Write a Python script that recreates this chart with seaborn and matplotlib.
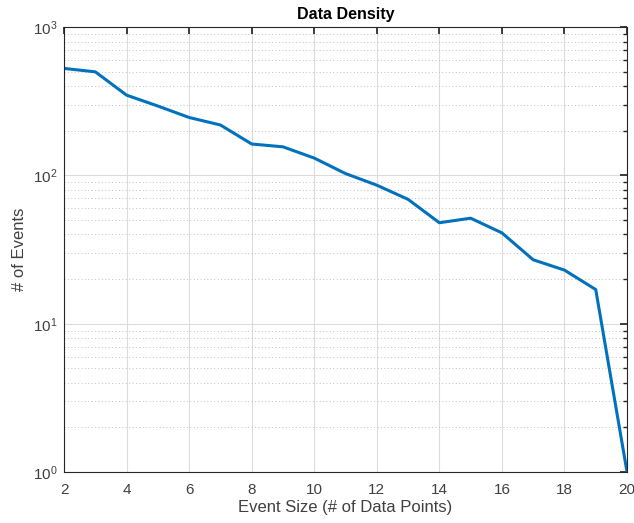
import matplotlib
matplotlib.use("Agg")
import matplotlib.pyplot as plt
import seaborn as sns
import pandas as pd
from matplotlib.ticker import LogLocator, NullFormatter

event_size = [2, 3, 4, 5, 6, 7, 8, 9, 10, 11, 12, 13, 14, 15, 16, 17, 18, 19, 20]
num_events = [527, 500, 348, 294, 246, 219, 163, 156, 131, 103, 86, 69, 48, 51.5, 41, 27, 23, 17, 1]

df = pd.DataFrame({"size": event_size, "events": num_events})

sns.set_theme(style="white")
plt.rcParams['font.family'] = ['Liberation Sans', 'DejaVu Sans']

fig = plt.figure(figsize=(6.34, 5.23), dpi=100)
ax = fig.add_axes([0.101, 0.0975, 0.888, 0.8505])

sns.lineplot(data=df, x="size", y="events", ax=ax, color="#0072BD", linewidth=2.2)
ax.set_yscale("log")
ax.set_xlim(2, 20)
ax.set_ylim(1, 1000)
ax.set_xticks(range(2, 21, 2))
ax.yaxis.set_major_locator(LogLocator(base=10, numticks=10))
ax.yaxis.set_minor_locator(LogLocator(base=10, subs=range(2, 10), numticks=20))
ax.yaxis.set_minor_formatter(NullFormatter())

ax.grid(True, which="major", color="#dcdcdc", linewidth=0.8, linestyle="-")
ax.grid(True, which="minor", axis="y", color="#c0c0c0", linewidth=0.7, linestyle=(0, (1, 2.5)))
ax.set_axisbelow(True)

for s in ax.spines.values():
    s.set_visible(True)
    s.set_color("#262626")
    s.set_linewidth(0.8)

ax.tick_params(which="both", direction="in", top=True, right=True, colors="#262626",
               labelsize=11, labelcolor="#404040")
ax.tick_params(which="major", length=5)
ax.tick_params(which="minor", length=3)
ax.tick_params(axis="x", pad=8)
ax.tick_params(axis="y", pad=5)

ax.set_title("Data Density", fontsize=11.5, fontweight="bold", color="#000000", pad=6)
ax.set_xlabel("Event Size (# of Data Points)", fontsize=12, color="#404040", labelpad=2)
ax.set_ylabel("# of Events", fontsize=12, color="#404040", labelpad=4)

fig.savefig("out.png", dpi=100)
